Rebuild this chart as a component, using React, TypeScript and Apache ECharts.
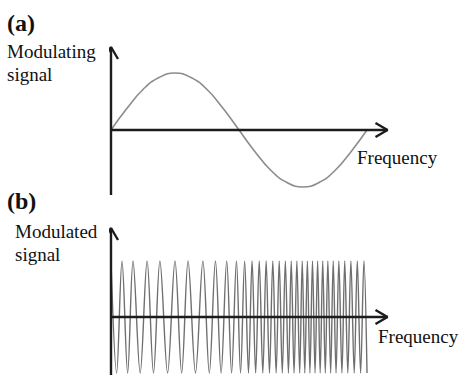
import React, { useEffect, useRef } from "react";
import * as echarts from "echarts";

// Modulating signal (panel a): x in % of one period, y in amplitude units
const modX = [0, 6.25, 12.5, 18.75, 25, 31.25, 37.5, 43.75, 50, 56.25, 62.5, 68.75, 75, 81.25, 87.5, 93.75, 100];
const modY = [0, 0.38, 0.71, 0.92, 1, 0.92, 0.71, 0.38, 0, -0.38, -0.71, -0.92, -1, -0.92, -0.71, -0.38, 0];

// Modulated signal (panel b): positions of crests and troughs
const crestX = [0, 4.3, 8.6, 14.1, 19.1, 25, 30.1, 35.9, 40.8, 45.2, 49.0, 52.2, 55.1, 57.9, 60.6, 63.2, 65.7, 68.1, 70.4, 72.6, 74.7, 76.7, 78.7, 80.7, 82.7, 84.7, 86.8, 89.0, 91.3, 93.7, 96.2, 98.8];
const troughX = [2.2, 6.5, 11.4, 16.6, 22.1, 27.6, 33.0, 38.4, 43.0, 47.1, 50.6, 53.7, 56.5, 59.3, 61.9, 64.5, 66.9, 69.3, 71.5, 73.7, 75.7, 77.7, 79.7, 81.7, 83.7, 85.8, 87.9, 90.2, 92.5, 95.0, 97.5, 100];
const crestY = 1;
const troughY = -1;

const labelsA = ["(a)", "Modulating", "signal", "Frequency"];
const labelsB = ["(b)", "Modulated", "signal", "Frequency"];

const X_MAX = 108;
const A_YMIN = -1.14, A_YMAX = 1.456;
const B_YMIN = -1.036, B_YMAX = 1.589;

export default function App() {
  const ref = useRef<HTMLDivElement>(null);
  useEffect(() => {
    if (!ref.current) return;
    const chart = echarts.init(ref.current, undefined, { renderer: "svg" });

    const modData = modX.map((x, i) => [x, modY[i]]);
    const fmData: number[][] = [];
    crestX.forEach((x) => fmData.push([x, crestY]));
    troughX.forEach((x) => fmData.push([x, troughY]));
    fmData.sort((a, b) => a[0] - b[0]);

    const axisStyle = { color: "#1c1c1c", width: 2.4 };
    const pxX = 276.5 / X_MAX; // px per x unit
    const arrowLenX = 12 / pxX;
    const mk = (gi: number, data: number[][], style: any, smooth: boolean | number = false) => ({
      type: "line",
      xAxisIndex: gi,
      yAxisIndex: gi,
      data,
      showSymbol: false,
      symbol: "none",
      smooth,
      clip: false,
      silent: true,
      lineStyle: style,
      z: style === axisStyle ? 3 : 2,
    });

    const arrowsFor = (gi: number, ymax: number, unitPx: number) => {
      const dyX = 7 / unitPx;
      const dxY = 7 / pxX;
      const dyY = 12 / unitPx;
      return [
        mk(gi, [[0, 0], [X_MAX, 0]], axisStyle),
        mk(gi, [[X_MAX - arrowLenX, dyX], [X_MAX, 0], [X_MAX - arrowLenX, -dyX]], axisStyle),
        mk(gi, [[-dxY, ymax - dyY], [0, ymax], [dxY, ymax - dyY]], axisStyle),
      ];
    };

    const serif = "'Liberation Serif', 'Times New Roman', serif";
    const txt = (t: string, x: number, y: number, size: number, bold = false) => ({
      type: "text",
      x,
      y,
      silent: true,
      style: {
        text: t,
        fontFamily: serif,
        fontSize: size,
        fontWeight: bold ? "bold" : "normal",
        fill: "#111",
        align: "left",
        verticalAlign: "middle",
      },
    });

    chart.setOption({
      animation: false,
      backgroundColor: "#fff",
      grid: [
        { left: 111, top: 47, width: 276.5, height: 148 },
        { left: 111, top: 228, width: 276.5, height: 147 },
      ],
      xAxis: [
        { type: "value", gridIndex: 0, min: 0, max: X_MAX, show: false },
        { type: "value", gridIndex: 1, min: 0, max: X_MAX, show: false },
      ],
      yAxis: [
        { type: "value", gridIndex: 0, min: A_YMIN, max: A_YMAX, show: false },
        { type: "value", gridIndex: 1, min: B_YMIN, max: B_YMAX, show: false },
      ],
      graphic: [
        txt(labelsA[0], 7, 23, 24, true),
        txt(labelsA[1], 7, 51, 19),
        txt(labelsA[2], 7, 74, 19),
        txt(labelsA[3], 357, 157, 19),
        txt(labelsB[0], 7, 201, 24, true),
        txt(labelsB[1], 15, 231, 19),
        txt(labelsB[2], 15, 254, 19),
        txt(labelsB[3], 378, 336, 19),
      ],
      series: [
        mk(0, modData, { color: "#8c8c8c", width: 1.6 }, 0.5),
        mk(0, [[0, A_YMIN], [0, A_YMAX]], axisStyle),
        ...arrowsFor(0, A_YMAX, 57),
        mk(1, fmData, { color: "#6f6f6f", width: 1.4 }, 0.35),
        mk(1, [[0, B_YMIN], [0, B_YMAX]], axisStyle),
        ...arrowsFor(1, B_YMAX, 56),
      ],
    });
    return () => chart.dispose();
  }, []);

  return (
    <div
      ref={ref}
      style={{ position: "fixed", left: 0, top: 0, width: 460, height: 375, background: "#fff" }}
    />
  );
}
